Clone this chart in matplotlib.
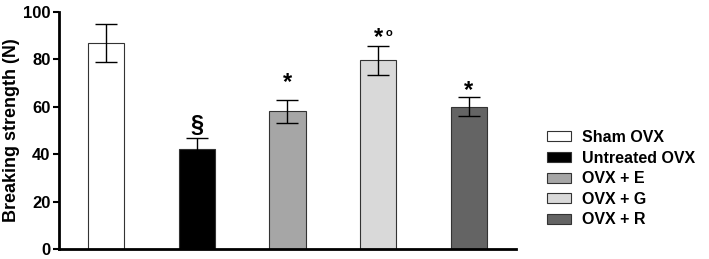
import matplotlib
matplotlib.use("Agg")
import matplotlib.pyplot as plt
from matplotlib.patches import Patch

plt.rcParams['font.family'] = ['Liberation Sans', 'DejaVu Sans']
plt.rcParams['font.weight'] = 'bold'

groups = ['Sham OVX', 'Untreated OVX', 'OVX + E', 'OVX + G', 'OVX + R']
means = [87, 42, 58, 79.5, 60]
errors = [8, 5, 5, 6, 4]
colors = ['#ffffff', '#000000', '#a6a6a6', '#d9d9d9', '#646464']
marks = ['', '§', '*', '*', '*']
mark_y = [0, 52, 70, 89, 67]

fig = plt.figure(figsize=(7.09, 2.59), dpi=100)
ax = fig.add_axes([0.083, 0.039, 0.645, 0.915])

x = range(len(groups))
ax.bar(x, means, width=0.4, color=colors, edgecolor='#333333', linewidth=0.8, zorder=2)
ax.errorbar(x, means, yerr=errors, fmt='none', ecolor='black', elinewidth=1,
            capsize=8, capthick=1, zorder=3)

for i, m in enumerate(marks):
    if m:
        ax.text(i, mark_y[i], m, ha='center', va='center', fontsize=17, fontweight='bold')
# small circle after the star on OVX + G
ax.text(3.12, mark_y[3] + 2, 'o', ha='center', va='center', fontsize=8, fontweight='bold')

ax.set_xlim(-0.52, 4.52)
ax.set_ylim(0, 100)
ax.set_yticks([0, 20, 40, 60, 80, 100])
ax.set_xticks([])
ax.tick_params(axis='y', labelsize=12, width=1.5, length=4, pad=2)
ax.set_ylabel('Breaking strength (N)', fontsize=13, fontweight='bold', labelpad=2)
for s in ['top', 'right']:
    ax.spines[s].set_visible(False)
ax.spines['left'].set_linewidth(2)
ax.spines['bottom'].set_linewidth(2)

handles = [Patch(facecolor=c, edgecolor='#333333', linewidth=0.8) for c in colors]
fig.legend(handles, groups, loc='center left', bbox_to_anchor=(0.772, 0.31),
           frameon=False, fontsize=11.5, handlelength=1.45, handleheight=0.6,
           labelspacing=0.35, handletextpad=0.7, borderpad=0, borderaxespad=0)

fig.savefig('out.png', dpi=100)
